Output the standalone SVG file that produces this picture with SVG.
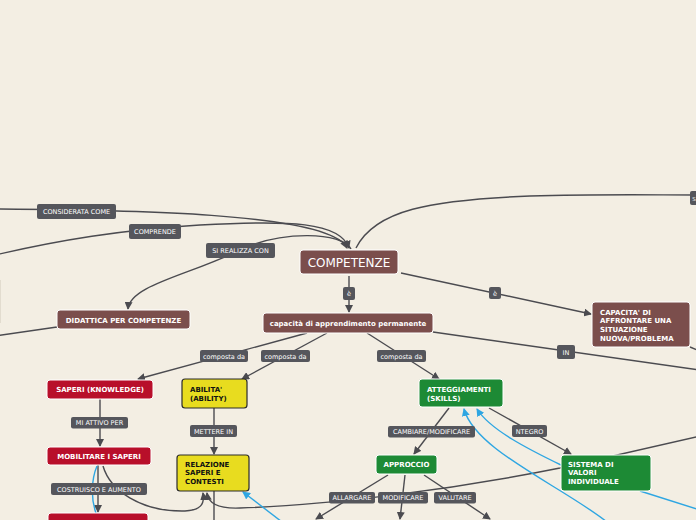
<svg xmlns="http://www.w3.org/2000/svg" width="696" height="520" viewBox="0 0 696 520">
<defs>
<style>
.ln{fill:none;stroke:#4b4b50;stroke-width:1.4}
.bl{fill:none;stroke:#2ea6e2;stroke-width:1.4}
.lb rect{fill:#55565c}
.lb text{fill:#ffffff;font-family:"DejaVu Sans",Verdana,sans-serif;font-size:6.5px;text-anchor:middle}
.nd text{font-family:"DejaVu Sans",Verdana,sans-serif;font-size:7px;font-weight:bold;fill:#ffffff}
.br{fill:#7b4e4c;stroke:#ffffff;stroke-width:1}
.rd{fill:#b80f2a;stroke:#ffffff;stroke-width:1}
.gr{fill:#1d8a35;stroke:#ffffff;stroke-width:1}
.ye{fill:#e8dc1f;stroke:#2b2b2b;stroke-width:1.2}
.nd text.dk{fill:#111111}
.c{text-anchor:middle}
</style>
<marker id="ag" viewBox="0 0 8 8" refX="7" refY="4" markerWidth="8" markerHeight="8" markerUnits="userSpaceOnUse" orient="auto"><path d="M0,0 L8,4 L0,8 z" fill="#4b4b50"/></marker>
<marker id="ab" viewBox="0 0 8 8" refX="7" refY="4" markerWidth="8" markerHeight="8" markerUnits="userSpaceOnUse" orient="auto"><path d="M0,0 L8,4 L0,8 z" fill="#2ea6e2"/></marker>
</defs>
<rect x="0" y="0" width="696" height="520" fill="#f3eee3"/>
<g id="connectors">
<path class="ln" d="M-5,209 C120,210 330,212 347,248" marker-end="url(#ag)"/>
<path class="ln" d="M-5,255 C60,240 120,230 200,225 C290,220 340,222 349,248" marker-end="url(#ag)"/>
<path class="ln" d="M351,249 C342,232 282,230 240,250 C190,275 130,285 128,309" marker-end="url(#ag)"/>
<path class="ln" d="M356,248 C375,210 430,200 530,196 C600,194 650,195 700,195"/>
<path class="ln" d="M349,276 L349,312" marker-end="url(#ag)"/>
<path class="ln" d="M401,273 L591,314" marker-end="url(#ag)"/>
<path class="ln" d="M433,332 L700,370"/>
<path class="ln" d="M690,347 L700,351"/>
<path class="ln" d="M57,327 L-5,336"/>
<path class="ln" d="M307,333 L138,379" marker-end="url(#ag)"/>
<path class="ln" d="M327,333 L242,379" marker-end="url(#ag)"/>
<path class="ln" d="M367,333 L439,379" marker-end="url(#ag)"/>
<path class="ln" d="M100,399 L100,446" marker-end="url(#ag)"/>
<path class="ln" d="M214,408 L214,454" marker-end="url(#ag)"/>
<path class="ln" d="M98,465 L98,512" marker-end="url(#ag)"/>
<path class="bl" d="M97,466 C91,480 91,500 96,513"/>
<path class="ln" d="M103,466 C110,490 140,512 185,511 C200,510 205,505 203,493" marker-end="url(#ag)"/>
<path class="ln" d="M700,436 L560,468 C450,490 330,505 240,508 C215,509 208,502 207,493" marker-end="url(#ag)"/>
<path class="ln" d="M214,491 L214,525"/>
<path class="bl" d="M286,525 L243,492" marker-end="url(#ab)"/>
<path class="ln" d="M449,408 L414,454" marker-end="url(#ag)"/>
<path class="ln" d="M489,408 L571,454" marker-end="url(#ag)"/>
<path class="bl" d="M561,465 C530,450 490,430 477,409" marker-end="url(#ab)"/>
<path class="bl" d="M607,522 C560,485 475,450 464,409" marker-end="url(#ab)"/>
<path class="bl" d="M640,491 L700,510"/>
<path class="ln" d="M388,475 L316,519" marker-end="url(#ag)"/>
<path class="ln" d="M405,475 L400,519" marker-end="url(#ag)"/>
<path class="ln" d="M424,475 L490,519" marker-end="url(#ag)"/>
<g class="lb">
<rect x="37" y="204" width="79" height="15" rx="2"/><text x="76.5" y="214">CONSIDERATA COME</text>
<rect x="129" y="224" width="52" height="15" rx="2"/><text x="155" y="234">COMPRENDE</text>
<rect x="206" y="243" width="69" height="15" rx="2"/><text x="240.5" y="253">SI REALIZZA CON</text>
<rect x="690" y="191" width="30" height="14" rx="2"/><text x="694" y="200.5" style="font-size:5.5px">S</text>
<rect x="343" y="287" width="12" height="13" rx="2"/><text x="349" y="296">è</text>
<rect x="489" y="287" width="12" height="12" rx="2"/><text x="495" y="295.5">è</text>
<rect x="200" y="350" width="48" height="12" rx="2"/><text x="224" y="358.5">composta da</text>
<rect x="261" y="350" width="49" height="12" rx="2"/><text x="285.5" y="358.5">composta da</text>
<rect x="377" y="350" width="49" height="12" rx="2"/><text x="401.5" y="358.5">composta da</text>
<rect x="557" y="345" width="18" height="14" rx="2"/><text x="566" y="354.5">IN</text>
<rect x="71" y="417" width="57" height="11.5" rx="2"/><text x="99.5" y="425">MI ATTIVO PER</text>
<rect x="190" y="425" width="47" height="12" rx="2"/><text x="213.5" y="433.5">METTERE IN</text>
<rect x="51" y="483" width="96" height="12" rx="2"/><text x="99" y="491.5">COSTRUISCO E AUMENTO</text>
<rect x="388" y="426" width="87" height="11.5" rx="2"/><text x="431.5" y="434">CAMBIARE/MODIFICARE</text>
<rect x="512" y="425" width="35" height="12" rx="2"/><text x="529.5" y="433.5">NTEGRO</text>
<rect x="329" y="492" width="46" height="11.5" rx="2"/><text x="352" y="500">ALLARGARE</text>
<rect x="378" y="492" width="50" height="11.5" rx="2"/><text x="403" y="500">MODIFICARE</text>
<rect x="434" y="492" width="42" height="11.5" rx="2"/><text x="455" y="500">VALUTARE</text>
</g>
</g>
<line x1="0.5" y1="280" x2="0.5" y2="323" stroke="#e2dccf" stroke-width="1"/>
<g id="competenze" class="nd"><rect class="br" x="300" y="250" width="98" height="24" rx="3"/><text class="c" x="349" y="266.5" style="font-size:12px;font-weight:normal">COMPETENZE</text></g>
<g id="capacita-apprendimento" class="nd"><rect class="br" x="263" y="313" width="170" height="20" rx="3"/><text class="c" x="348" y="325.5">capacità di apprendimento permanente</text></g>
<g id="capacita-affrontare" class="nd"><rect class="br" x="592" y="302" width="98" height="45" rx="3"/><text x="600" y="314.5">CAPACITA' DI</text><text x="600" y="323.2">AFFRONTARE UNA</text><text x="600" y="331.9">SITUAZIONE</text><text x="600" y="340.6">NUOVA/PROBLEMA</text></g>
<g id="didattica" class="nd"><rect class="br" x="57" y="310" width="133" height="19" rx="3"/><text class="c" x="123.5" y="322.5">DIDATTICA PER COMPETENZE</text></g>
<g id="saperi" class="nd"><rect class="rd" x="47" y="380" width="106" height="19" rx="3"/><text class="c" x="100" y="392">SAPERI (KNOWLEDGE)</text></g>
<g id="abilita" class="nd"><rect class="ye" x="182" y="379" width="65" height="29" rx="3"/><text class="dk" x="190" y="392">ABILITA'</text><text class="dk" x="190" y="400.5">(ABILITY)</text></g>
<g id="atteggiamenti" class="nd"><rect class="gr" x="419" y="379" width="84" height="28" rx="3"/><text x="427" y="392">ATTEGGIAMENTI</text><text x="427" y="400.5">(SKILLS)</text></g>
<g id="mobilitare" class="nd"><rect class="rd" x="47" y="447" width="104" height="18" rx="3"/><text class="c" x="99" y="458.5">MOBILITARE I SAPERI</text></g>
<g id="nodo-rosso-basso" class="nd"><rect class="rd" x="48" y="513" width="100" height="20" rx="3"/></g>
<g id="relazione" class="nd"><rect class="ye" x="177" y="455" width="72" height="36" rx="3"/><text class="dk" x="185" y="466.5">RELAZIONE</text><text class="dk" x="185" y="475">SAPERI E</text><text class="dk" x="185" y="483.5">CONTESTI</text></g>
<g id="approccio" class="nd"><rect class="gr" x="376" y="455" width="61" height="19" rx="3"/><text class="c" x="406.5" y="466.5">APPROCCIO</text></g>
<g id="sistema" class="nd"><rect class="gr" x="561" y="455" width="90" height="36" rx="3"/><text x="568" y="466.5">SISTEMA DI</text><text x="568" y="475">VALORI</text><text x="568" y="483.5">INDIVIDUALE</text></g>
</svg>
